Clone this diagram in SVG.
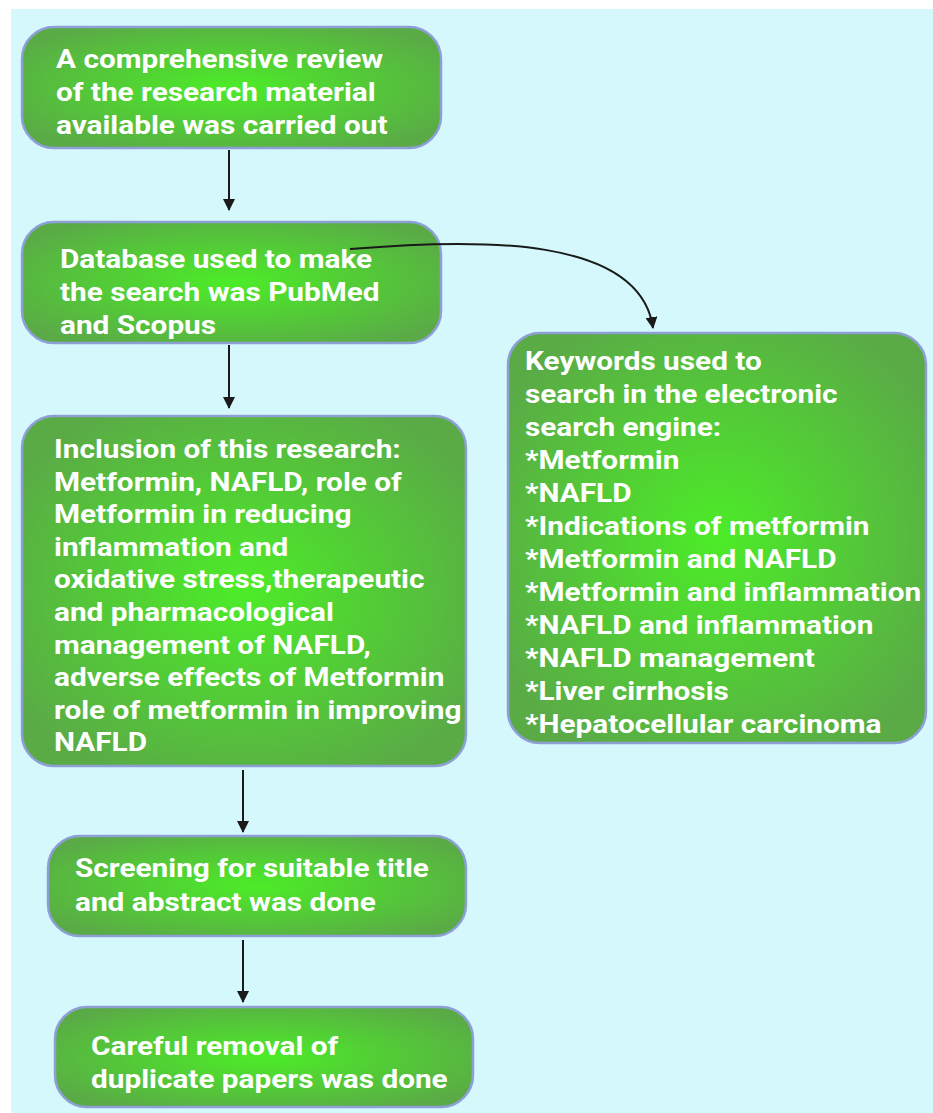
<svg xmlns="http://www.w3.org/2000/svg" width="933" height="1113" viewBox="0 0 933 1113">
<defs>
<radialGradient id="g" cx="0.5" cy="0.5" r="0.6">
<stop offset="0" stop-color="#4cec28"/>
<stop offset="1" stop-color="#5aab46"/>
</radialGradient>
<marker id="ah" viewBox="0 0 12 12" refX="11" refY="6" markerWidth="12" markerHeight="12" markerUnits="userSpaceOnUse" orient="auto">
<path d="M0,0 L12,6 L0,12 Z" fill="#1a1a1a"/>
</marker>
<style>
.box{fill:url(#g);stroke:#8e9fd6;stroke-width:2.5}
.t{font-family:Roboto,"Liberation Sans",sans-serif;font-weight:bold;font-size:26px;fill:#ffffff}
.c{fill:none;stroke:#1a1a1a;stroke-width:2;marker-end:url(#ah)}
</style>
</defs>
<rect x="0" y="0" width="933" height="1113" fill="#ffffff"/>
<rect x="11" y="9" width="922" height="1104" fill="#d4f8fc"/>
<g id="n1">
<rect class="box" x="22" y="27" width="419" height="121" rx="32"/>
<g transform="translate(56,0) scale(1.145,1)">
<text class="t" x="0" y="68">A comprehensive review</text>
<text class="t" x="0" y="101">of the research material</text>
<text class="t" x="0" y="134">available was carried out</text>
</g>
</g>
<g id="n2">
<rect class="box" x="22" y="222" width="419" height="121" rx="32"/>
<g transform="translate(60,0) scale(1.145,1)">
<text class="t" x="0" y="268">Database used to make</text>
<text class="t" x="0" y="301">the search was PubMed</text>
<text class="t" x="0" y="334">and Scopus</text>
</g>
</g>
<g id="n3">
<rect class="box" x="22" y="416" width="444" height="350" rx="32"/>
<g transform="translate(54,0) scale(1.145,1)">
<text class="t" x="0" y="458">Inclusion of this research:</text>
<text class="t" x="0" y="491">Metformin, NAFLD, role of</text>
<text class="t" x="0" y="523">Metformin in reducing</text>
<text class="t" x="0" y="556">inflammation and</text>
<text class="t" x="0" y="588">oxidative stress,therapeutic</text>
<text class="t" x="0" y="621">and pharmacological</text>
<text class="t" x="0" y="654">management of NAFLD,</text>
<text class="t" x="0" y="686">adverse effects of Metformin</text>
<text class="t" x="0" y="719">role of metformin in improving</text>
<text class="t" x="0" y="751">NAFLD</text>
</g>
</g>
<g id="n4">
<rect class="box" x="508" y="333" width="418" height="410" rx="32"/>
<g transform="translate(525,0) scale(1.145,1)">
<text class="t" x="0" y="370">Keywords used to</text>
<text class="t" x="0" y="403">search in the electronic</text>
<text class="t" x="0" y="436">search engine:</text>
<text class="t" x="0" y="469">*Metformin</text>
<text class="t" x="0" y="502">*NAFLD</text>
<text class="t" x="0" y="535">*Indications of metformin</text>
<text class="t" x="0" y="568">*Metformin and NAFLD</text>
<text class="t" x="0" y="601">*Metformin and inflammation</text>
<text class="t" x="0" y="634">*NAFLD and inflammation</text>
<text class="t" x="0" y="667">*NAFLD management</text>
<text class="t" x="0" y="700">*Liver cirrhosis</text>
<text class="t" x="0" y="733">*Hepatocellular carcinoma</text>
</g>
</g>
<g id="n5">
<rect class="box" x="48" y="836" width="418" height="100" rx="32"/>
<g transform="translate(75,0) scale(1.145,1)">
<text class="t" x="0" y="877">Screening for suitable title</text>
<text class="t" x="0" y="911">and abstract was done</text>
</g>
</g>
<g id="n6">
<rect class="box" x="55" y="1007" width="418" height="100" rx="32"/>
<g transform="translate(91,0) scale(1.145,1)">
<text class="t" x="0" y="1055">Careful removal of</text>
<text class="t" x="0" y="1088">duplicate papers was done</text>
</g>
</g>
<g id="connectors">
<path class="c" d="M229,150 L229,210"/>
<path class="c" d="M229,345 L229,408"/>
<path class="c" d="M243,770 L243,832"/>
<path class="c" d="M243,940 L243,1002"/>
<path class="c" d="M350,249 C480,238 640,236 653,328" stroke-width="1.5"/>
</g>
</svg>
